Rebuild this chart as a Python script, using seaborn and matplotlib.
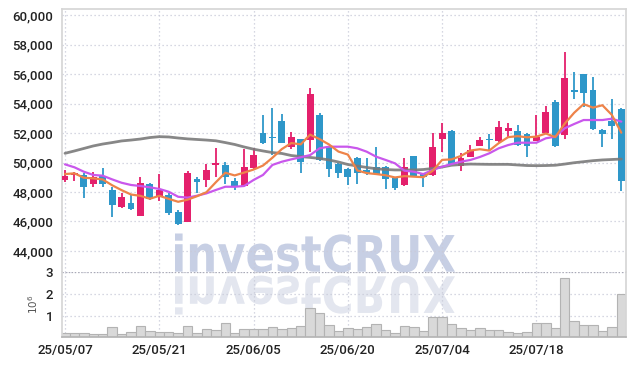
import matplotlib
matplotlib.use("Agg")
import matplotlib.pyplot as plt
from matplotlib.textpath import TextPath
from matplotlib.patches import PathPatch
from matplotlib.font_manager import FontProperties
from matplotlib.transforms import Affine2D
from matplotlib.ticker import FuncFormatter
import seaborn as sns
import numpy as np
import pandas as pd

# trading days 2025-05-07 .. 2025-07-31 (KRX holidays 06/03, 06/06)
dates = pd.bdate_range("2025-05-07", "2025-07-31", freq="C",
                       holidays=["2025-06-03", "2025-06-06"])
tick_dates = ["25/05/07", "25/05/21", "25/06/05", "25/06/20", "25/07/04", "25/07/18"]

opens = [48820, 49160, 49160, 48530, 49110, 48140, 47000, 47240, 46390, 48550,
         47750, 47800, 46670, 45990, 48860, 48820, 49860, 49840, 48750, 48430,
         49650, 52030, 51740, 52850, 51080, 51580, 51520, 53230, 51080, 49910,
         49540, 50330, 49500, 49720, 49720, 48930, 48480, 50450, 49220, 49160,
         51580, 52170, 49770, 50400, 51150, 51560, 51490, 52170, 52170, 51920,
         51490, 51990, 54130, 51870, 54930, 56010, 54930, 52210, 52820, 53640]
highs = [49500, 49350, 49270, 49340, 49610, 48320, 47950, 47800, 49040, 48630,
         49200, 47910, 46770, 49430, 49040, 49880, 51010, 50060, 48930, 50900,
         51010, 53230, 53690, 53280, 52100, 51620, 55040, 53390, 51080, 49950,
         49600, 50400, 50290, 51040, 49760, 48990, 50290, 50450, 49280, 51990,
         52710, 52220, 50630, 51190, 51760, 51920, 52820, 52710, 52550, 51980,
         53230, 53840, 54250, 57490, 56170, 56010, 55790, 52280, 54300, 53700]
lows = [48700, 48770, 47580, 48360, 48320, 46280, 46940, 46780, 46340, 47480,
        47390, 46440, 45760, 45990, 47910, 48320, 49040, 48550, 48140, 48400,
        49500, 51260, 50510, 51300, 50900, 49310, 50740, 50100, 49040, 48930,
        48480, 48520, 49160, 49160, 48190, 48140, 48420, 49040, 48360, 49100,
        50740, 49830, 49450, 50350, 51100, 50850, 51420, 51760, 51130, 50400,
        51450, 51940, 51060, 51580, 54300, 53790, 52200, 51040, 51580, 48090]
closes = [49090, 49290, 48320, 49040, 48530, 47120, 47640, 46830, 48590, 47530,
          48140, 46600, 45830, 49310, 48700, 49500, 49990, 49040, 48410, 49680,
          50510, 51350, 51700, 51350, 51720, 50060, 54660, 50170, 49540, 49310,
          49040, 49270, 49270, 49220, 48890, 48300, 49720, 49090, 49040, 51080,
          51990, 49880, 50290, 50850, 51530, 51530, 52400, 52330, 51190, 51130,
          51760, 53450, 51130, 55760, 54810, 54700, 52260, 51940, 52480, 48770]
# volume, millions of shares
volumes = [0.24, 0.24, 0.24, 0.19, 0.19, 0.51, 0.19, 0.28, 0.54, 0.34,
           0.28, 0.28, 0.24, 0.54, 0.24, 0.42, 0.35, 0.69, 0.24, 0.42,
           0.42, 0.42, 0.51, 0.42, 0.46, 0.57, 1.37, 1.15, 0.61, 0.33,
           0.46, 0.42, 0.51, 0.65, 0.35, 0.24, 0.55, 0.51, 0.31, 0.96,
           0.96, 0.65, 0.46, 0.35, 0.46, 0.39, 0.35, 0.28, 0.24, 0.28,
           0.69, 0.69, 0.46, 2.74, 0.76, 0.61, 0.61, 0.31, 0.51, 1.98]
# first four 5-day averages (need closes before the window)
ma5_head = [49220, 49270, 48970, 48930]
ma20 = [49880, 49680, 49380, 49160, 49110, 48860, 48630, 48480, 48410, 48320,
        48210, 48020, 47680, 47620, 47750, 47910, 48140, 48360, 48360, 48410,
        48820, 49160, 49840, 50060, 50220, 50360, 50510, 50970, 51080, 51080,
        51080, 50970, 50740, 50400, 50180, 49950, 49450, 49380, 49220, 49500,
        49720, 49900, 50060, 50180, 50380, 50630, 50970, 51190, 51350, 51350,
        51350, 51650, 51760, 52330, 52620, 52890, 52890, 52890, 52980, 52780]
ma120 = [50630, 50790, 50960, 51130, 51260, 51360, 51470, 51530, 51600, 51700,
         51760, 51740, 51670, 51610, 51570, 51530, 51480, 51360, 51230, 51060,
         50910, 50790, 50680, 50620, 50480, 50410, 50350, 50280, 50180, 50040,
         49870, 49770, 49670, 49580, 49530, 49500, 49500, 49500, 49530, 49600,
         49700, 49820, 49870, 49900, 49890, 49880, 49880, 49880, 49840, 49800,
         49790, 49800, 49820, 49900, 49990, 50060, 50130, 50180, 50210, 50240]

df = pd.DataFrame({"date": dates, "open": opens, "high": highs, "low": lows,
                   "close": closes, "volume": volumes, "ma20": ma20, "ma120": ma120})
df["idx"] = np.arange(len(df))
df["ma5"] = df["close"].rolling(5).mean()
df.loc[:3, "ma5"] = ma5_head

sns.set_theme(style="white")
plt.rcParams["font.family"] = ["Roboto", "DejaVu Sans"]
plt.rcParams["font.weight"] = "medium"

UP, DOWN = "#e4206c", "#2e97c9"
GRID = dict(color="#c9cbd9", linestyle=(0, (1, 2.2)), linewidth=0.9)

fig = plt.figure(figsize=(6.34, 3.66), dpi=100)
ax = fig.add_axes([61.7 / 634, 1 - 272 / 366, 564.3 / 634, 263 / 366])
axv = fig.add_axes([61.7 / 634, 1 - 337 / 366, 564.3 / 634, 65 / 366])
for a in (ax, axv):
    a.set_facecolor("none")

# watermark + reflection
tp = TextPath((0, 0), "investCRUX", size=1,
              prop=FontProperties(family="DejaVu Sans", weight="bold"))
bb = tp.get_extents()
sx, sy = 280 / bb.width, 38.2 / bb.y1
to_fig = Affine2D().scale(1 / 634, 1 / 366) + fig.transFigure
wm = PathPatch(tp, facecolor="#c7cfe4", edgecolor="none", zorder=-2,
               transform=Affine2D().translate(-bb.x0, 0).scale(sx, sy)
               .translate(175, 366 - 271.7) + to_fig)
wm_r = PathPatch(tp, facecolor="#e3e6ef", edgecolor="none", zorder=-2,
                 transform=Affine2D().translate(-bb.x0, 0).scale(sx, -sy)
                 .translate(175, 366 - 276.3) + to_fig)
fig.add_artist(wm)
fig.add_artist(wm_r)

# candles
up = df["close"] >= df["open"]
colors = np.where(up, UP, DOWN)
ax.vlines(df["idx"], df["low"], df["high"], colors=colors, linewidth=1.3, zorder=2)
body_lo = np.minimum(df["open"], df["close"])
body_h = np.maximum((df["close"] - df["open"]).abs(), 70)
ax.bar(df["idx"], body_h, bottom=body_lo, width=0.72, color=colors,
       linewidth=0, zorder=3)

sns.lineplot(data=df, x="idx", y="ma120", ax=ax, color="#7a7a7a", linewidth=2.0,
             alpha=0.9, zorder=4)
sns.lineplot(data=df, x="idx", y="ma20", ax=ax, color="#c957ec", linewidth=1.6, zorder=5)
sns.lineplot(data=df, x="idx", y="ma5", ax=ax, color="#ee8349", linewidth=1.6, zorder=6)

ax.set_xlim(-0.35, 59.5)
ax.set_ylim(42570, 60430)
ax.set_yticks(range(44000, 60001, 2000))
ax.yaxis.set_major_formatter(FuncFormatter(lambda v, p: f"{v:,.0f}"))
tick_pos = [int(np.where(df["date"].dt.strftime("%y/%m/%d") == t)[0][0]) for t in tick_dates]
ax.set_xticks(tick_pos)
ax.set_xticklabels([])
ax.set_xlabel("")
ax.set_ylabel("")
ax.grid(True, **GRID)
ax.tick_params(axis="both", length=0, pad=6, labelsize=9.5, colors="#222222")
for s in ("top", "left", "right"):
    ax.spines[s].set_color("#d6d6d6")
ax.spines["bottom"].set_visible(False)

# volume
sns.barplot(data=df, x="idx", y="volume", ax=axv, color="#d9d9d9", saturation=1,
            width=1.0, edgecolor="#b3b3b3", linewidth=0.8, zorder=2)
axv.set_xlim(-0.35, 59.5)
axv.set_ylim(0.05, 3.0)
axv.set_yticks([1, 2, 3])
axv.set_yticklabels(["1", "2", "3"])
axv.set_xticks(tick_pos)
axv.set_xticklabels(tick_dates)
axv.set_xlabel("")
axv.set_ylabel("")
axv.grid(True, **GRID)
axv.tick_params(axis="both", length=0, pad=6, labelsize=9.5, colors="#222222")
axv.tick_params(axis="x", pad=5)
for s in ("left", "right"):
    axv.spines[s].set_color("#d6d6d6")
axv.spines["top"].set_visible(False)
axv.spines["bottom"].set_color("#b5b5b5")
axv.axhline(3.0, color="#a9a9b5", linestyle=(0, (1, 1.5)), linewidth=0.9, zorder=1)

fig.text(33 / 634, 1 - 304 / 366, "$10^6$", rotation=90, ha="center", va="center",
         color="#555555", fontsize=7.5, family="DejaVu Sans")

fig.savefig("out.png", dpi=100)
